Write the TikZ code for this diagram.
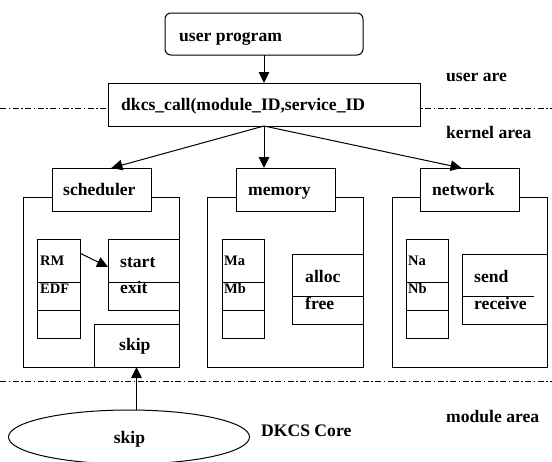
\documentclass[tikz,border=0pt]{standalone}
\usepackage{fontspec}
\setmainfont{Liberation Serif}
\usetikzlibrary{arrows.meta,calc,shapes.geometric}

\newcommand\labfont{\fontsize{17.6}{20}\selectfont\bfseries}
\newcommand\cellfont{\fontsize{14.5}{17}\selectfont\bfseries}

\tikzset{
  box/.style={draw, line width=1pt, fill=white, inner sep=0pt, outer sep=0pt, anchor=north west},
  lbl/.style={anchor=base west, inner sep=0pt, font=\labfont},
  cell/.style={anchor=base west, inner sep=0pt, font=\cellfont},
  arr/.style={line width=1pt, -{Triangle[length=11pt,width=10.5pt]}},
  border/.style={line width=1pt, dash pattern=on 6pt off 2.5pt on 1.5pt off 2.5pt},
}

\begin{document}
\begin{tikzpicture}[x=1pt,y=-1pt]
\clip (0,0) rectangle (552,461);

% layer boundaries
\draw[border] (0,108) -- (552,108);
\draw[border] (0,381) -- (552,381);

% user side
\node[box, rounded corners=6pt, minimum width=198pt, minimum height=42pt] (up) at (165,13) {};
\node[lbl] (upt) at (179,41) {user program};
\node[box, minimum width=312pt, minimum height=43pt] (dk) at (108,83) {};
\node[lbl] (dkt) at (121,110) {dkcs\_call(module\_ID,service\_ID};
\draw[arr] (up.south) -- (dk.north);

\node[lbl] (ua) at (446,81) {user are};
\node[lbl] (ka) at (446,138) {kernel area};

% scheduler module
\node[box, minimum width=156pt, minimum height=170pt] (schO) at (23,197) {};
\node[box, minimum width=99pt, minimum height=43pt] (sch) at (52,168) {};
\node[lbl] (scht) at (63,195) {scheduler};
\node[box, minimum width=43pt, minimum height=43pt] (rm) at (37,239) {};
\node[box, minimum width=43pt, minimum height=28pt] (edf) at (37,282) {};
\node[box, minimum width=43pt, minimum height=28pt] (sc3) at (37,310) {};
\node[cell] (rmt) at (40,265) {RM};
\node[cell] (edft) at (40,293) {EDF};
\node[box, minimum width=71pt, minimum height=43pt] (st) at (108,239) {};
\node[box, minimum width=71pt, minimum height=28pt] (ex) at (108,282) {};
\node[lbl] (stt) at (120,267) {start};
\node[lbl] (ext) at (120,293) {exit};
\node[box, minimum width=85pt, minimum height=43pt] (sk) at (94,324) {};
\node[lbl] (skt) at (119,350) {skip};
\draw[arr] ($(rm.north east)!0.33!(rm.south east)$) -- ($(st.north west)!0.65!(st.south west)$);

% memory module
\node[box, minimum width=156pt, minimum height=170pt] (memO) at (207,197) {};
\node[box, minimum width=99pt, minimum height=43pt] (mem) at (236,168) {};
\node[lbl] (memt) at (248,195) {memory};
\node[box, minimum width=42pt, minimum height=43pt] (ma) at (222,239) {};
\node[box, minimum width=42pt, minimum height=28pt] (mb) at (222,282) {};
\node[box, minimum width=42pt, minimum height=28pt] (m3) at (222,310) {};
\node[cell] (mat) at (224,265) {Ma};
\node[cell] (mbt) at (224,293) {Mb};
\node[box, minimum width=71pt, minimum height=42pt] (al) at (292,254) {};
\node[box, minimum width=71pt, minimum height=28pt] (fr) at (292,296) {};
\node[lbl] (alt) at (305,282) {alloc};
\node[lbl] (frt) at (305,309) {free};

% network module
\node[box, minimum width=155pt, minimum height=170pt] (netO) at (392,197) {};
\node[box, minimum width=99pt, minimum height=43pt] (net) at (420,168) {};
\node[lbl] (nett) at (432,195) {network};
\node[box, minimum width=42pt, minimum height=43pt] (na) at (406,239) {};
\node[box, minimum width=42pt, minimum height=28pt] (nb) at (406,282) {};
\node[box, minimum width=42pt, minimum height=28pt] (n3) at (406,310) {};
\node[cell] (nat) at (408,265) {Na};
\node[cell] (nbt) at (408,293) {Nb};
\node[box, minimum width=85pt, minimum height=70pt] (sd) at (462,254) {};
\draw[line width=1pt] ($(sd.north west)+(0,42)$) -- ++(72,0);
\node[lbl] (sdt) at (474,282) {send};
\node[lbl] (rct) at (474,309) {receive};

% dispatch from the call box to each module
\draw[arr] (dk.south) -- ($(sch.north west)!0.6!(sch.north east)$);
\draw[arr] (dk.south) -- (dk.south |- mem.north);
\draw[arr] (dk.south) -- ($(net.north west)!0.42!(net.north east)$);

% core
\node[ellipse, draw, line width=1pt, inner sep=0pt, minimum width=241pt, minimum height=54pt] (core) at (129,437) {};
\node[lbl, anchor=base] (coret) at (129.5,443) {skip};
\draw[arr] (core.north -| sk.south) -- (sk.south);
\node[lbl] (dkcs) at (261,436) {DKCS Core};
\node[lbl] (ma2) at (446,422) {module area};
\end{tikzpicture}
\end{document}
